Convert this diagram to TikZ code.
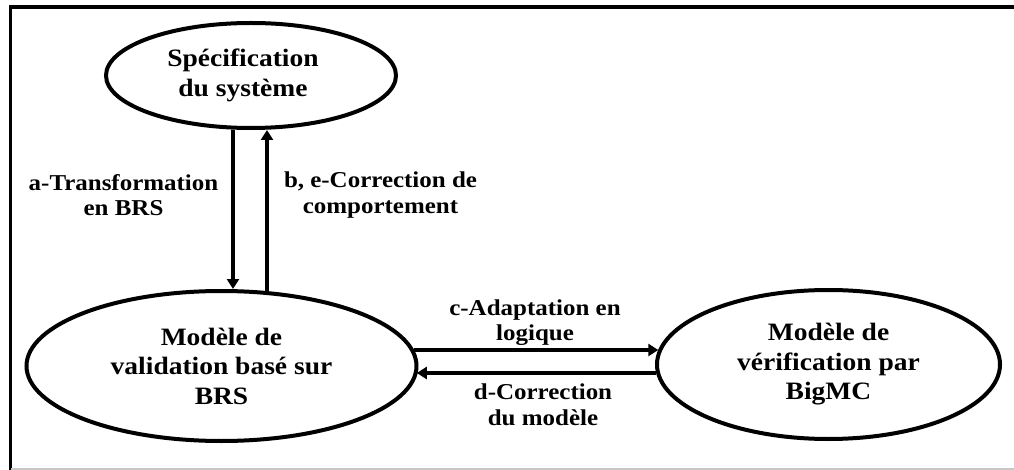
\documentclass[tikz,border=0pt]{standalone}
\usepackage{fontspec}
\setmainfont{Liberation Serif}[FakeStretch=1.1]
\usetikzlibrary{shapes.geometric,arrows.meta}
\begin{document}
\begin{tikzpicture}[x=1pt,y=-1pt,
  state/.style={ellipse,draw,line width=4pt,inner sep=0pt,align=center,
    font=\fontsize{25}{29.5}\selectfont\bfseries},
  flow/.style={line width=3.6pt,-{Triangle[length=10pt,width=12pt]}},
  lbl/.style={align=center,font=\fontsize{22.7}{25.5}\selectfont\bfseries}]
\useasboundingbox (0,0) rectangle (1014,470);
% frame
\draw[line width=3.5pt] (10.5,470) -- (10.5,7) -- (1014,7);
\draw[black!22,line width=1.5pt] (10.5,469) -- (1014,469);

% states
\node[state,minimum width=290pt,minimum height=105pt] (spec) at (251,75.5)
  {Spécification\hspace*{16pt}\\du système\hspace*{16pt}};
\node[state,minimum width=390pt,minimum height=150pt] (brs) at (221.5,366)
  {Modèle de\\validation basé sur\\BRS};
\node[state,minimum width=343pt,minimum height=149pt] (bigmc) at (828.5,364.5)
  {Modèle de\\vérification par\\BigMC};

% vertical flows
\draw[flow] ([xshift=-18pt]spec.south) -- ([xshift=11.5pt]brs.north);
\draw[flow] ([xshift=45.5pt,yshift=-2pt]brs.north) -- ([xshift=16pt]spec.south);

% horizontal flows
\draw[flow] ([xshift=-4.5pt,yshift=16pt]brs.east) -- ([xshift=3.3pt,yshift=14.5pt]bigmc.west);
\draw[flow] ([xshift=1pt,yshift=-8.5pt]bigmc.west) -- ([xshift=-1.7pt,yshift=-7pt]brs.east);

% labels
\node[lbl] (la) at (123.5,195) {a-Transformation\\en BRS};
\node[lbl] (lb) at (380.5,195) {b, e-Correction de\\comportement};
\node[lbl] (lc) at (535,322.5) {c-Adaptation en\\logique};
\node[lbl] (ld) at (543,405) {d-Correction\\du modèle};
\end{tikzpicture}
\end{document}
